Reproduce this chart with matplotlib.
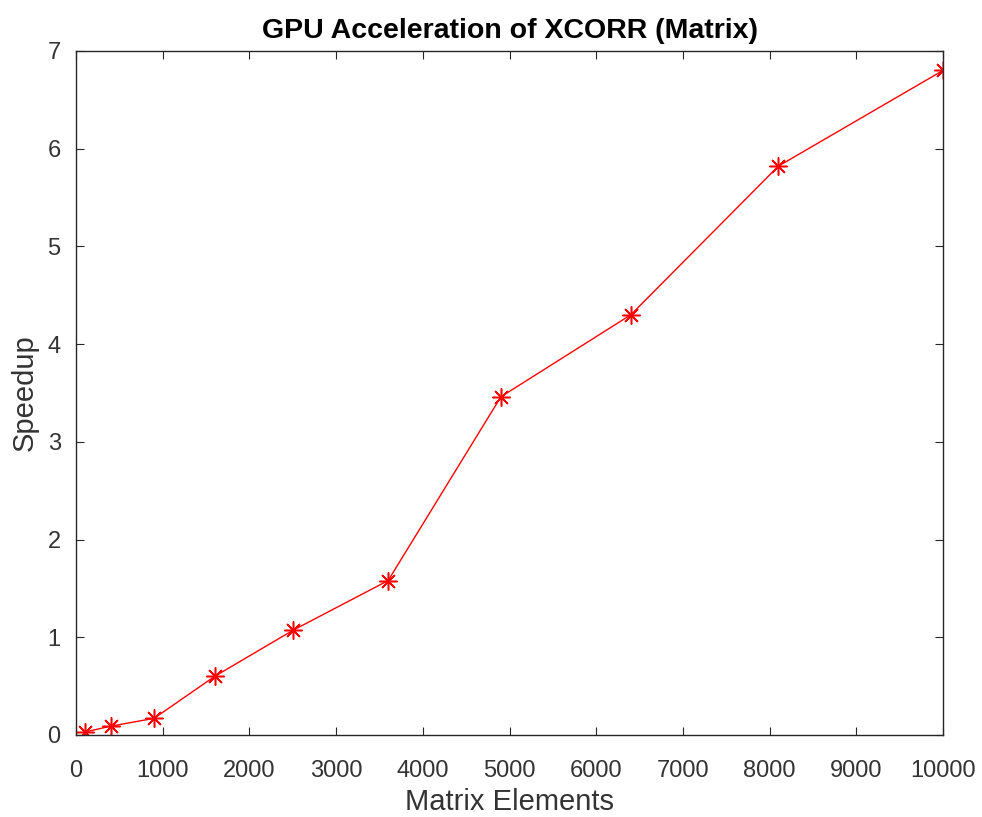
import matplotlib
matplotlib.use("Agg")
import matplotlib.pyplot as plt

plt.rcParams["font.family"] = ["Liberation Sans", "DejaVu Sans"]

elements = [100, 400, 900, 1600, 2500, 3600, 4900, 6400, 8100, 10000]
speedup = [0.03, 0.09, 0.17, 0.60, 1.07, 1.58, 3.46, 4.30, 5.82, 6.80]

fig = plt.figure(figsize=(9.82, 8.17), dpi=100)
ax = fig.add_axes([0.0774, 0.1004, 0.883, 0.8374])

# matlab style '*' marker: 8 spokes
ax.plot(elements, speedup, color="red", linewidth=1.0, marker=(8, 2, 0), markersize=13,
        markeredgewidth=1.1)

ax.set_xlim(0, 10000)
ax.set_ylim(0, 7)
ax.set_xticks(range(0, 10001, 1000))
ax.set_yticks(range(0, 8))
ax.tick_params(direction="in", top=True, right=True, length=6, width=0.8, labelsize=17,
               labelcolor="#333333", color="#262626")
ax.tick_params(axis="x", pad=18)
ax.tick_params(axis="y", pad=11)
for s in ax.spines.values():
    s.set_color("#262626")
    s.set_linewidth(1.0)

ax.set_title("GPU Acceleration of XCORR (Matrix)", fontsize=20.5, fontweight="bold", pad=9)
ax.set_xlabel("Matrix Elements", fontsize=21, color="#333333", labelpad=4)
ax.set_ylabel("Speedup", fontsize=21, color="#333333", labelpad=6)

fig.savefig("out.png", dpi=100)
